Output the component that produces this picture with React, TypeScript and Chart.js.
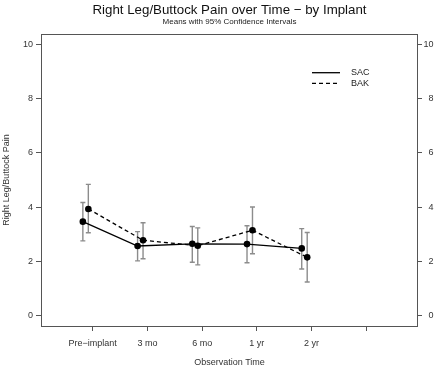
import React, { useEffect, useRef } from "react";
import { Chart, registerables } from "chart.js";

Chart.register(...registerables);

const FONT = "'Liberation Sans', Arial, Helvetica, sans-serif";

const TITLE = "Right Leg/Buttock Pain over Time − by Implant";
const SUBTITLE = "Means with 95% Confidence Intervals";
const X_TITLE = "Observation Time";
const Y_TITLE = "Right Leg/Buttock Pain";

const X_LABELS = ["Pre−implant", "3 mo", "6 mo", "1 yr", "2 yr", ""];
const X_TICKS = [1, 2, 3, 4, 5, 6];
const Y_TICKS = [0, 2, 4, 6, 8, 10];

const TIME_INDEX = [1, 2, 3, 4, 5];
const SAC_OFFSET = -0.18;
const BAK_OFFSET = -0.08;

const SAC_MEAN = [3.46, 2.56, 2.64, 2.63, 2.47];
const SAC_LOW = [2.75, 2.01, 1.96, 1.94, 1.71];
const SAC_HIGH = [4.17, 3.09, 3.28, 3.31, 3.2];

const BAK_MEAN = [3.93, 2.77, 2.57, 3.14, 2.14];
const BAK_LOW = [3.05, 2.09, 1.86, 2.27, 1.23];
const BAK_HIGH = [4.84, 3.42, 3.23, 4.0, 3.06];

const SERIES = [
  { name: "SAC", offset: SAC_OFFSET, mean: SAC_MEAN, low: SAC_LOW, high: SAC_HIGH, dash: [] as number[] },
  { name: "BAK", offset: BAK_OFFSET, mean: BAK_MEAN, low: BAK_LOW, high: BAK_HIGH, dash: [4, 3] },
];

const errorBarPlugin = {
  id: "errorBars",
  beforeDatasetsDraw(chart: any) {
    const { ctx, scales } = chart;
    const xs = scales.x;
    const ys = scales.y;
    ctx.save();
    ctx.strokeStyle = "#8c8c8c";
    ctx.lineWidth = 1.4;
    SERIES.forEach((s) => {
      TIME_INDEX.forEach((t, i) => {
        const x = xs.getPixelForValue(t + s.offset);
        const y1 = ys.getPixelForValue(s.low[i]);
        const y2 = ys.getPixelForValue(s.high[i]);
        ctx.beginPath();
        ctx.moveTo(x, y1);
        ctx.lineTo(x, y2);
        ctx.moveTo(x - 2.5, y1);
        ctx.lineTo(x + 2.5, y1);
        ctx.moveTo(x - 2.5, y2);
        ctx.lineTo(x + 2.5, y2);
        ctx.stroke();
      });
    });
    ctx.restore();
  },
};

const decorPlugin = {
  id: "decor",
  afterDraw(chart: any) {
    const { ctx, chartArea, scales } = chart;
    const { left, right, top, bottom } = chartArea;
    const cx = (left + right) / 2;
    ctx.save();
    // box
    ctx.strokeStyle = "#555";
    ctx.lineWidth = 1;
    ctx.strokeRect(Math.round(left) + 0.5, Math.round(top) + 0.5, Math.round(right - left) - 1, Math.round(bottom - top));

    // right axis labels (right-aligned)
    ctx.fillStyle = "#333";
    ctx.font = `9px ${FONT}`;
    ctx.textAlign = "right";
    ctx.textBaseline = "middle";
    Y_TICKS.forEach((v) => {
      ctx.fillText(String(v), 433.5, scales.y2.getPixelForValue(v));
    });

    // titles
    ctx.fillStyle = "#111";
    ctx.textAlign = "center";
    ctx.textBaseline = "alphabetic";
    ctx.font = `13.3px ${FONT}`;
    ctx.fillText(TITLE, cx, 13.5);
    ctx.font = `8px ${FONT}`;
    ctx.fillStyle = "#222";
    ctx.fillText(SUBTITLE, cx, 24);

    // axis titles
    ctx.fillStyle = "#333";
    ctx.font = `9px ${FONT}`;
    ctx.textBaseline = "middle";
    ctx.fillText(X_TITLE, cx, 363);
    ctx.save();
    ctx.translate(6.5, (top + bottom) / 2);
    ctx.rotate(-Math.PI / 2);
    ctx.fillText(Y_TITLE, 0, 0);
    ctx.restore();

    // legend
    const lx1 = 312;
    const lx2 = 340;
    const rows = [72.7, 83.3];
    SERIES.forEach((s, i) => {
      ctx.strokeStyle = "#000";
      ctx.lineWidth = 1.3;
      ctx.setLineDash(s.dash);
      ctx.beginPath();
      ctx.moveTo(lx1, rows[i]);
      ctx.lineTo(lx2, rows[i]);
      ctx.stroke();
      ctx.setLineDash([]);
      ctx.fillStyle = "#222";
      ctx.textAlign = "left";
      ctx.textBaseline = "middle";
      ctx.font = `9px ${FONT}`;
      ctx.fillText(s.name, 351, rows[i]);
    });
    ctx.restore();
  },
};

export default function App() {
  const ref = useRef<HTMLCanvasElement | null>(null);

  useEffect(() => {
    if (!ref.current) return;
    const tickFont = { family: FONT, size: 9 };
    const chart = new Chart(ref.current, {
      type: "scatter",
      data: {
        datasets: SERIES.map((s) => ({
          label: s.name,
          data: TIME_INDEX.map((t, i) => ({ x: t + s.offset, y: s.mean[i] })),
          showLine: true,
          borderColor: "#000",
          borderWidth: 1.3,
          borderDash: s.dash,
          backgroundColor: "#000",
          pointBackgroundColor: "#000",
          pointBorderWidth: 0,
          pointRadius: 3.3,
          yAxisID: "y",
          xAxisID: "x",
        })),
      },
      options: {
        responsive: false,
        animation: false,
        events: [],
        layout: { padding: { top: 34, left: 0, right: 0, bottom: 0 } },
        plugins: {
          legend: { display: false },
          title: { display: false },
          tooltip: { enabled: false },
        },
        scales: {
          x: {
            type: "linear",
            position: "bottom",
            min: 0.055,
            max: 6.945,
            afterBuildTicks: (scale: any) => {
              scale.ticks = X_TICKS.map((v) => ({ value: v }));
            },
            afterFit: (scale: any) => {
              scale.height = 43;
            },
            ticks: {
              autoSkip: false,
              maxRotation: 0,
              font: tickFont,
              color: "#333",
              padding: 7,
              callback: (v: any) => {
                const i = X_TICKS.indexOf(Number(v));
                return i >= 0 ? X_LABELS[i] : "";
              },
            },
            grid: { drawOnChartArea: false, drawTicks: true, tickLength: 5, color: "#555" },
            border: { display: false },
          },
          y: {
            type: "linear",
            position: "left",
            min: -0.4,
            max: 10.4,
            afterBuildTicks: (scale: any) => {
              scale.ticks = Y_TICKS.map((v) => ({ value: v }));
            },
            afterFit: (scale: any) => {
              scale.width = 41;
            },
            ticks: { autoSkip: false, font: tickFont, color: "#333", padding: 3 },
            grid: { drawOnChartArea: false, drawTicks: true, tickLength: 5, color: "#555" },
            border: { display: false },
          },
          y2: {
            type: "linear",
            position: "right",
            min: -0.4,
            max: 10.4,
            afterBuildTicks: (scale: any) => {
              scale.ticks = Y_TICKS.map((v) => ({ value: v }));
            },
            afterFit: (scale: any) => {
              scale.width = 22;
            },
            ticks: { autoSkip: false, display: false },
            grid: { drawOnChartArea: false, drawTicks: true, tickLength: 4, color: "#555" },
            border: { display: false },
          },
        },
      } as any,
      plugins: [errorBarPlugin, decorPlugin],
    });
    return () => chart.destroy();
  }, []);

  return (
    <div style={{ position: "fixed", left: 0, top: 0, width: 440, height: 369, background: "#fff" }}>
      <canvas ref={ref} width={440} height={369} style={{ width: 440, height: 369, display: "block" }} />
    </div>
  );
}
